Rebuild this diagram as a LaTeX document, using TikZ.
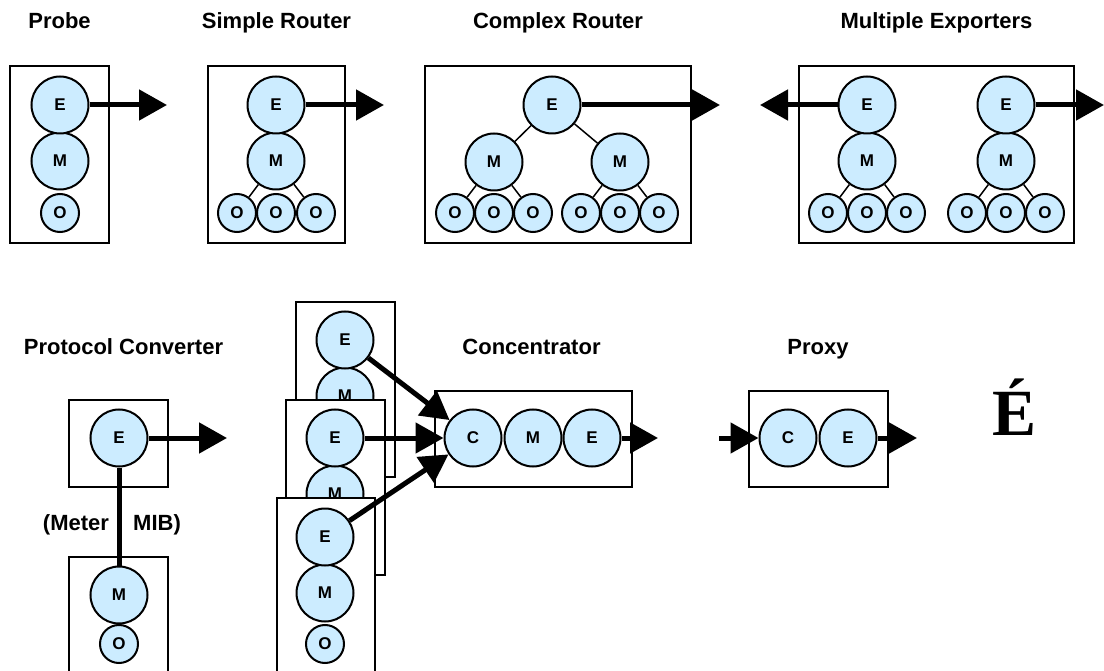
\documentclass[tikz,border=0pt]{standalone}
\usepackage{fontspec}
\setmainfont{Liberation Sans}
\newfontfamily\accentfont{Liberation Serif}
\usetikzlibrary{arrows.meta}
\definecolor{cellblue}{RGB}{204,236,255}
\tikzset{
  bigc/.style={circle, draw=black, line width=2pt, fill=cellblue, inner sep=0pt,
    minimum size=57pt, font=\bfseries\fontsize{17}{17}\selectfont},
  smallc/.style={circle, draw=black, line width=2pt, fill=cellblue, inner sep=0pt,
    minimum size=38pt, font=\bfseries\fontsize{17}{17}\selectfont},
  boxst/.style={rectangle, draw=black, line width=2pt, fill=white, inner sep=0pt},
  flow/.style={line width=5pt, -{Triangle[length=28pt,width=30pt]}},
  bar/.style={line width=5pt},
  link/.style={line width=1.5pt},
  ttl/.style={anchor=base, inner sep=0pt, font=\bfseries\fontsize{22}{22}\selectfont},
  lbl/.style={inner sep=0pt, font=\bfseries\fontsize{22}{22}\selectfont}
}
\begin{document}
\begin{tikzpicture}[x=1pt, y=-1pt]
\useasboundingbox (0,0) rectangle (1104,671);
\clip (0,0) rectangle (1104,671);

% ---------- titles ----------
\node[ttl] (tprobe) at (59.5,29) {Probe};
\node[ttl] (tsimple) at (276.5,29) {Simple Router};
\node[ttl] (tcomplex) at (558,29) {Complex Router};
\node[ttl] (tmulti) at (936.5,29) {Multiple Exporters};
\node[ttl] (tconv) at (123.5,355) {Protocol Converter};
\node[ttl] (tconc) at (531.5,355) {Concentrator};
\node[ttl] (tproxy) at (818,355) {Proxy};

% ---------- Probe ----------
\node[boxst, minimum width=99pt, minimum height=177pt] (probebox) at (59.5,154.5) {};
\node[smallc] (pO) at (60,213) {O};
\node[bigc] (pM) at (60,161) {M};
\node[bigc] (pE) at (60,105) {E};
\coordinate (pOut) at (167,105);
\draw[flow] (pE) -- (pOut);

% ---------- Simple Router ----------
\node[boxst, minimum width=137pt, minimum height=177pt] (srbox) at (276.5,154.5) {};
\node[smallc] (sO1) at (237,213) {O};
\node[smallc] (sO2) at (276,213) {O};
\node[smallc] (sO3) at (316,213) {O};
\node[bigc] (sM) at (276,161) {M};
\node[bigc] (sE) at (276,105) {E};
\draw[link] (sM) -- (sO1) (sM) -- (sO3);
\coordinate (sOut) at (384,105);
\draw[flow] (sE) -- (sOut);

% ---------- Complex Router ----------
\node[boxst, minimum width=266pt, minimum height=177pt] (crbox) at (558,154.5) {};
\node[smallc] (cO1) at (455,213) {O};
\node[smallc] (cO2) at (494,213) {O};
\node[smallc] (cO3) at (533,213) {O};
\node[smallc] (cO4) at (581,213) {O};
\node[smallc] (cO5) at (620,213) {O};
\node[smallc] (cO6) at (659,213) {O};
\node[bigc] (cM1) at (494,162) {M};
\node[bigc] (cM2) at (620,162) {M};
\node[bigc] (cE) at (552,105) {E};
\draw[link] (cM1) -- (cO1) (cM1) -- (cO3) (cM2) -- (cO4) (cM2) -- (cO6)
            (cE) -- (cM1) (cE) -- (cM2);
\coordinate (cOut) at (720,105);
\draw[flow] (cE) -- (cOut);

% ---------- Multiple Exporters ----------
\node[boxst, minimum width=275pt, minimum height=177pt] (mebox) at (936.5,154.5) {};
\node[smallc] (mO1) at (828,213) {O};
\node[smallc] (mO2) at (867,213) {O};
\node[smallc] (mO3) at (906,213) {O};
\node[smallc] (mO4) at (967,213) {O};
\node[smallc] (mO5) at (1006,213) {O};
\node[smallc] (mO6) at (1045,213) {O};
\node[bigc] (mM1) at (867,161) {M};
\node[bigc] (mM2) at (1006,161) {M};
\node[bigc] (mE1) at (867,105) {E};
\node[bigc] (mE2) at (1006,105) {E};
\draw[link] (mM1) -- (mO1) (mM1) -- (mO3) (mM2) -- (mO4) (mM2) -- (mO6);
\coordinate (mOutL) at (760,105);
\coordinate (mOutR) at (1104,105);
\draw[flow] (mE1) -- (mOutL);
\draw[flow] (mE2) -- (mOutR);

% ---------- Protocol Converter ----------
\node[boxst, minimum width=99pt, minimum height=87pt] (pcTop) at (118.5,443.5) {};
\node[boxst, minimum width=99pt, minimum height=143pt] (pcBot) at (118.5,628.5) {};
\node[bigc] (pcE) at (119,438) {E};
\node[smallc] (pcO) at (119,644) {O};
\node[bigc] (pcM) at (119,595) {M};
\draw[bar] (pcE) -- (pcM);
\node[lbl] (mlabA) at (76,525) {(Meter};
\node[lbl] (mlabB) at (157,525) {MIB)};
\coordinate (pcOut) at (227,438);
\draw[flow] (pcE) -- (pcOut);

% ---------- Concentrator: stacked meters ----------
\node[boxst, minimum width=99pt, minimum height=175pt] (stk1) at (345.5,389.5) {};
\node[bigc] (k1M) at (345,396) {M};
\node[bigc] (k1E) at (345,340) {E};
\node[boxst, minimum width=99pt, minimum height=175pt] (stk2) at (335.5,487.5) {};
\node[bigc] (k2M) at (335,494) {M};
\node[bigc] (k2E) at (335,438) {E};
\node[boxst, minimum width=98pt, minimum height=192pt] (stk3) at (326,594) {};
\node[smallc] (k3O) at (325,644) {O};
\node[bigc] (k3M) at (325,593) {M};
\node[bigc] (k3E) at (325,537) {E};

% ---------- Concentrator ----------
\node[boxst, minimum width=197pt, minimum height=96pt] (conbox) at (533.5,439) {};
\node[bigc] (kC) at (473,438) {C};
\node[bigc] (kM) at (533,438) {M};
\node[bigc] (kE) at (592,438) {E};
\draw[flow] (k1E) -- (kC);
\draw[flow] (k2E) -- (kC);
\draw[flow] (k3E) -- (kC);
\coordinate (kOut) at (658,438);
\draw[flow] (kE) -- (kOut);

% ---------- Proxy ----------
\node[boxst, minimum width=139pt, minimum height=96pt] (proxybox) at (818.5,439) {};
\node[bigc] (xC) at (788,438) {C};
\node[bigc] (xE) at (848,438) {E};
\coordinate (xIn) at (719,438);
\coordinate (xOut) at (917,438);
\draw[flow] (xIn) -- (xC);
\draw[flow] (xE) -- (xOut);

% ---------- stray glyph ----------
\node[anchor=base, inner sep=0pt, font=\accentfont\bfseries\fontsize{66}{66}\selectfont] (glyph) at (1015,435) {É};
\end{tikzpicture}
\end{document}
